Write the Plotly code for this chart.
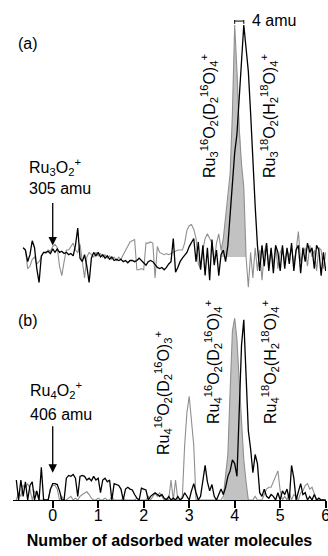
import plotly.graph_objects as go
import numpy as np

# ---------------- data ----------------
# panel (a): Ru3O2+ (305 amu), one D2O / H2(18)O molecule = 20 amu
base_a = 305
amu_a = list(range(292, 426))
gray_a = [0.04, 0.03, -0.05, -0.04, -0.01, 0.0, -0.03, -0.02, 0.0, 0.02, 0.015, 0.03, 0.025,
          0.045, 0.055, 0.04, -0.04, -0.08, -0.02, 0.03, 0.03, 0.045, 0.06,
          0.03, 0.02, 0.055, -0.03, -0.09, 0.0, 0.02, 0.01, 0.0, 0.02,
          0.005, 0.015, 0.0, 0.01, -0.005, 0.005, -0.01, 0.0, -0.015, 0.0,
          -0.01, 0.01, 0.03, 0.05, 0.065, 0.07, 0.075, -0.055, -0.055, -0.05,
          -0.055, 0.06, 0.06, 0.065, 0.06, -0.09, 0.045, 0.02, 0.015, 0.01,
          0.015, 0.01, 0.015, 0.02, 0.025, 0.03, 0.03, 0.03, 0.06, 0.115,
          0.135, 0.14, 0.12, 0.08, -0.03, -0.05, 0.03, 0.08, 0.1, 0.08,
          0.06, -0.02, 0.06, 0.1, 0.03, 0.08, 0.17, 0.25, 0.36, 0.62,
          1.0, 0.8, 0.55, 0.4, 0.3, 0.0, -0.13, 0.02, -0.09, 0.04,
          -0.06, 0.03, -0.1, 0.02, 0.06, -0.04, 0.03, -0.03, 0.05, -0.05,
          0.02, 0.04, -0.02, 0.03, 0.0, 0.04, -0.03, 0.03, 0.11, -0.02,
          0.01, 0.04, -0.04, 0.05, 0.0, 0.03, -0.06, 0.04, 0.03, -0.05, 0.02]
black_a = [0.04, 0.03, -0.02, 0.01, 0.07, 0.04, -0.05, -0.11, 0.005, 0.02, 0.02, 0.025, 0.015,
           0.035, 0.02, 0.035, 0.02, 0.025, 0.015, 0.02, 0.01, 0.015, 0.005,
           0.05, 0.125, -0.005, -0.02, 0.01, -0.04, -0.11, -0.005, 0.02, 0.005,
           0.02, 0.0, 0.01, -0.005, 0.005, -0.01, 0.0, -0.015, -0.01, -0.015,
           -0.01, -0.02, -0.015, -0.025, -0.015, -0.015, -0.02, -0.015, -0.005, -0.015,
           -0.025, -0.035, -0.02, -0.015, -0.02, -0.035, -0.045, -0.05, -0.045, -0.055,
           -0.045, -0.03, -0.02, 0.08, -0.065, -0.045, -0.02, -0.005, 0.01, 0.02,
           0.045, 0.065, 0.08, -0.02, 0.065, -0.055, 0.05, -0.08, 0.04, -0.1,
           0.075, -0.035, 0.03, -0.08, 0.01, 0.03, -0.02, 0.05, 0.17, 0.33,
           0.45, 0.53, 0.68, 0.83, 1.0, 0.9, 0.8, 0.62, 0.4, 0.22,
           0.05, -0.06, 0.05, -0.04, 0.06, -0.06, 0.04, -0.07, 0.05, 0.02,
           -0.06, 0.05, -0.05, 0.04, -0.03, 0.06, -0.06, 0.03, 0.05, -0.07,
           0.04, -0.02, 0.06, 0.02, 0.04, -0.05, 0.05, 0.03, -0.08, 0.02, -0.06]

# panel (b): Ru4O2+ (406 amu)
base_b = 406
amu_b = list(range(390, 527))
gray_b = [0.0, 0.04, 0.02, 0.08, 0.07, 0.09, 0.06, 0.0, 0.05, 0.03, 0.0, 0.0, 0.0, 0.0, 0.0, 0.06,
          0.08, 0.08, 0.06, 0.0, 0.02, 0.0, 0.0, 0.01, 0.02, 0.0,
          0.01, 0.0, 0.02, 0.03, 0.04, 0.045, 0.03, 0.01, 0.0, 0.0,
          0.01, 0.0, 0.0, 0.01, 0.0, 0.0, 0.02, 0.0, 0.0, 0.0,
          0.0, 0.01, 0.0, 0.0, 0.0, 0.0, 0.0, 0.01, 0.0, 0.0,
          0.0, 0.0, 0.02, 0.0, 0.02, 0.035, 0.02, 0.04, 0.02, 0.0,
          0.01, 0.0, 0.11, 0.0, 0.11, 0.0, 0.0, 0.02, 0.3, 0.48,
          0.57, 0.45, 0.3, 0.0, 0.0, 0.0, 0.0, 0.0, 0.0, 0.0,
          0.0, 0.0, 0.0, 0.0, 0.0, 0.02, 0.12, 0.25, 0.6, 0.93,
          1.0, 0.88, 0.65, 0.4, 0.22, 0.1, 0.0, 0.0, 0.0, 0.02,
          0.0, 0.0, 0.0, 0.03, 0.06, 0.07, 0.07, 0.1, 0.13, 0.16,
          0.05, 0.0, 0.02, 0.0, 0.04, 0.0, 0.03, 0.02, 0.0, 0.04,
          0.05, 0.08, 0.09, 0.06, 0.07, 0.03, 0.0, 0.0, 0.0, 0.0, 0.0]
black_b = [0.11, 0.0, 0.11, 0.02, 0.10, 0.0, 0.08, 0.10, 0.0, 0.05, 0.0, 0.18, 0.0, 0.0, 0.0, 0.06,
           0.09, 0.09, 0.085, 0.05, 0.0, 0.0, 0.12, 0.135, 0.13, 0.14,
           0.12, 0.02, 0.13, 0.135, 0.13, 0.11, 0.12, 0.105, 0.13, 0.11,
           0.12, 0.04, 0.11, 0.12, 0.1, 0.11, 0.0, 0.09, 0.085, 0.08,
           0.06, 0.0, 0.06, 0.07, 0.06, 0.055, 0.03, 0.01, 0.0, 0.065,
           0.06, 0.055, 0.0, 0.02, 0.03, 0.04, 0.03, 0.02, 0.03, 0.01,
           0.0, 0.02, 0.0, 0.01, 0.0, 0.02, 0.0, 0.01, 0.04, 0.02,
           0.0, 0.05, 0.09, 0.04, 0.0, 0.02, 0.12, 0.19, 0.1, 0.05,
           0.085, 0.02, 0.0, 0.03, 0.06, 0.03, 0.07, 0.13, 0.16, 0.22,
           0.2, 0.13, 0.45, 0.85, 0.99, 0.7, 0.38, 0.28, 0.15, 0.25,
           0.2, 0.04, 0.02, 0.06, 0.02, 0.01, 0.03, 0.02, 0.0, 0.04,
           0.0, 0.05, 0.03, 0.06, 0.0, 0.19, 0.12, 0.0, 0.05, 0.09,
           0.03, 0.04, 0.0, 0.02, 0.0, 0.03, 0.0, 0.01, 0.0, 0.0, 0.0]

amu_per_water = 20
x_ticks = [0, 1, 2, 3, 4, 5, 6]

# ---------------- build ----------------
xa = [(m - base_a) / amu_per_water for m in amu_a]
xb = [(m - base_b) / amu_per_water for m in amu_b]

GRAY = "#8f8f8f"
FILL = "#c2c2c2"
FONT = "Liberation Sans, Arial, sans-serif"

def peak_window(x, y, center_idx, lo, hi):
    return x[center_idx - lo:center_idx + hi + 1], y[center_idx - lo:center_idx + hi + 1]

fig = go.Figure()

# panel (a)
ia = int(np.argmax(gray_a))
fxa, fya = peak_window(xa, gray_a, ia, 6, 5)
fig.add_trace(go.Scatter(x=fxa, y=fya, mode="lines", fill="tozeroy", fillcolor=FILL,
                         line=dict(color=FILL, width=0), xaxis="x2", yaxis="y2"))
fig.add_trace(go.Scatter(x=xa, y=gray_a, mode="lines", line=dict(color=GRAY, width=1.1),
                         xaxis="x2", yaxis="y2"))
fig.add_trace(go.Scatter(x=xa, y=black_a, mode="lines", line=dict(color="black", width=1.3),
                         xaxis="x2", yaxis="y2"))

# panel (b)
ib = int(np.argmax(gray_b))
fxb, fyb = peak_window(xb, gray_b, ib, 5, 6)
fig.add_trace(go.Scatter(x=fxb, y=fyb, mode="lines", fill="tozeroy", fillcolor=FILL,
                         line=dict(color=FILL, width=0), xaxis="x", yaxis="y"))
fig.add_trace(go.Scatter(x=xb, y=gray_b, mode="lines", line=dict(color=GRAY, width=1.1),
                         xaxis="x", yaxis="y"))
fig.add_trace(go.Scatter(x=xb, y=black_b, mode="lines", line=dict(color="black", width=1.3),
                         xaxis="x", yaxis="y"))

# layout geometry (pixels)
W, H = 328, 556
ML, MR, MT, MB = 13, 2, 20, 56
PW, PH = W - ML - MR, H - MT - MB

def px(xp):
    return (xp - ML) / PW

def py(yp):
    return (H - MB - yp) / PH

xr = [-0.873, 6.007]

fig.update_layout(
    width=W, height=H,
    margin=dict(l=ML, r=MR, t=MT, b=MB, autoexpand=False),
    paper_bgcolor="white", plot_bgcolor="white",
    showlegend=False,
    font=dict(family=FONT, size=16, color="black"),
    xaxis=dict(range=xr, domain=[0, 1], anchor="y", showgrid=False, zeroline=False,
               automargin=False, ticklabeloverflow="allow", ticklabelstandoff=-6,
               showline=True, linecolor="black", linewidth=1.2,
               ticks="outside", ticklen=7, tickwidth=1.5, tickcolor="black",
               tickvals=x_ticks, ticktext=[str(t) for t in x_ticks],
               tickfont=dict(family=FONT, size=16, color="black"),
               title=dict(text="<b>Number of adsorbed water molecules</b>",
                          font=dict(family=FONT, size=16, color="black"), standoff=11)),
    yaxis=dict(domain=[0, py(300)], range=[0, 1.0989], visible=False, anchor="x"),
    xaxis2=dict(range=xr, domain=[0, 1], anchor="y2", visible=False, matches="x"),
    yaxis2=dict(domain=[py(290), 1], range=[-0.1422, 1.0216], visible=False, anchor="x2"),
)

ann = []
def text(xp, yp, t, xanchor="left", angle=0, size=16):
    ann.append(dict(x=px(xp), y=py(yp), xref="paper", yref="paper", text=t, showarrow=False,
                    xanchor=xanchor, yanchor="middle", textangle=angle,
                    font=dict(family=FONT, size=size, color="black")))

text(16, 43, "(a)")
text(16, 320, "(b)")
text(27, 167, "Ru<sub>3</sub>O<sub>2</sub><sup>+</sup>")
text(27, 188, "305 amu")
text(28, 390, "Ru<sub>4</sub>O<sub>2</sub><sup>+</sup>")
text(28, 414, "406 amu")
text(250, 21, "4 amu")

text(209, 116, "Ru<sub>3</sub><sup>16</sup>O<sub>2</sub>(D<sub>2</sub><sup>16</sup>O)<sub>4</sub><sup>+</sup>", "center", -90)
text(269, 116, "Ru<sub>3</sub><sup>18</sup>O<sub>2</sub>(H<sub>2</sub><sup>18</sup>O)<sub>4</sub><sup>+</sup>", "center", -90)
text(163, 393, "Ru<sub>4</sub><sup>16</sup>O<sub>2</sub>(D<sub>2</sub><sup>16</sup>O)<sub>3</sub><sup>+</sup>", "center", -90)
text(213, 362, "Ru<sub>4</sub><sup>16</sup>O<sub>2</sub>(D<sub>2</sub><sup>16</sup>O)<sub>4</sub><sup>+</sup>", "center", -90)
text(270, 362, "Ru<sub>4</sub><sup>18</sup>O<sub>2</sub>(H<sub>2</sub><sup>18</sup>O)<sub>4</sub><sup>+</sup>", "center", -90)

# arrows pointing at the bare cluster mass (x = 0)
ann.append(dict(x=0, y=0.05, xref="x2", yref="y2", ax=0, ay=-44, text="", showarrow=True,
                arrowhead=2, arrowsize=1.3, arrowwidth=1.3, arrowcolor="black"))
ann.append(dict(x=0, y=0.15, xref="x", yref="y", ax=0, ay=-48, text="", showarrow=True,
                arrowhead=2, arrowsize=1.3, arrowwidth=1.3, arrowcolor="black"))
fig.update_layout(annotations=ann)

# 4 amu bracket between the two peaks of panel (a)
x_g = xa[ia]
x_k = xa[int(np.argmax(black_a))]
yb = 1.017
cap = 0.012
shapes = [
    dict(type="line", xref="x2", yref="y2", x0=x_g, x1=x_k, y0=yb, y1=yb, line=dict(color="black", width=1)),
    dict(type="line", xref="x2", yref="y2", x0=x_g, x1=x_g, y0=yb - cap, y1=yb + cap, line=dict(color="black", width=1)),
    dict(type="line", xref="x2", yref="y2", x0=x_k, x1=x_k, y0=yb - cap, y1=yb + cap, line=dict(color="black", width=1)),
]
fig.update_layout(shapes=shapes)

fig.write_html("out.html", config={"displayModeBar": False},
               post_script="document.body.style.margin='0';document.body.style.overflow='hidden';")
